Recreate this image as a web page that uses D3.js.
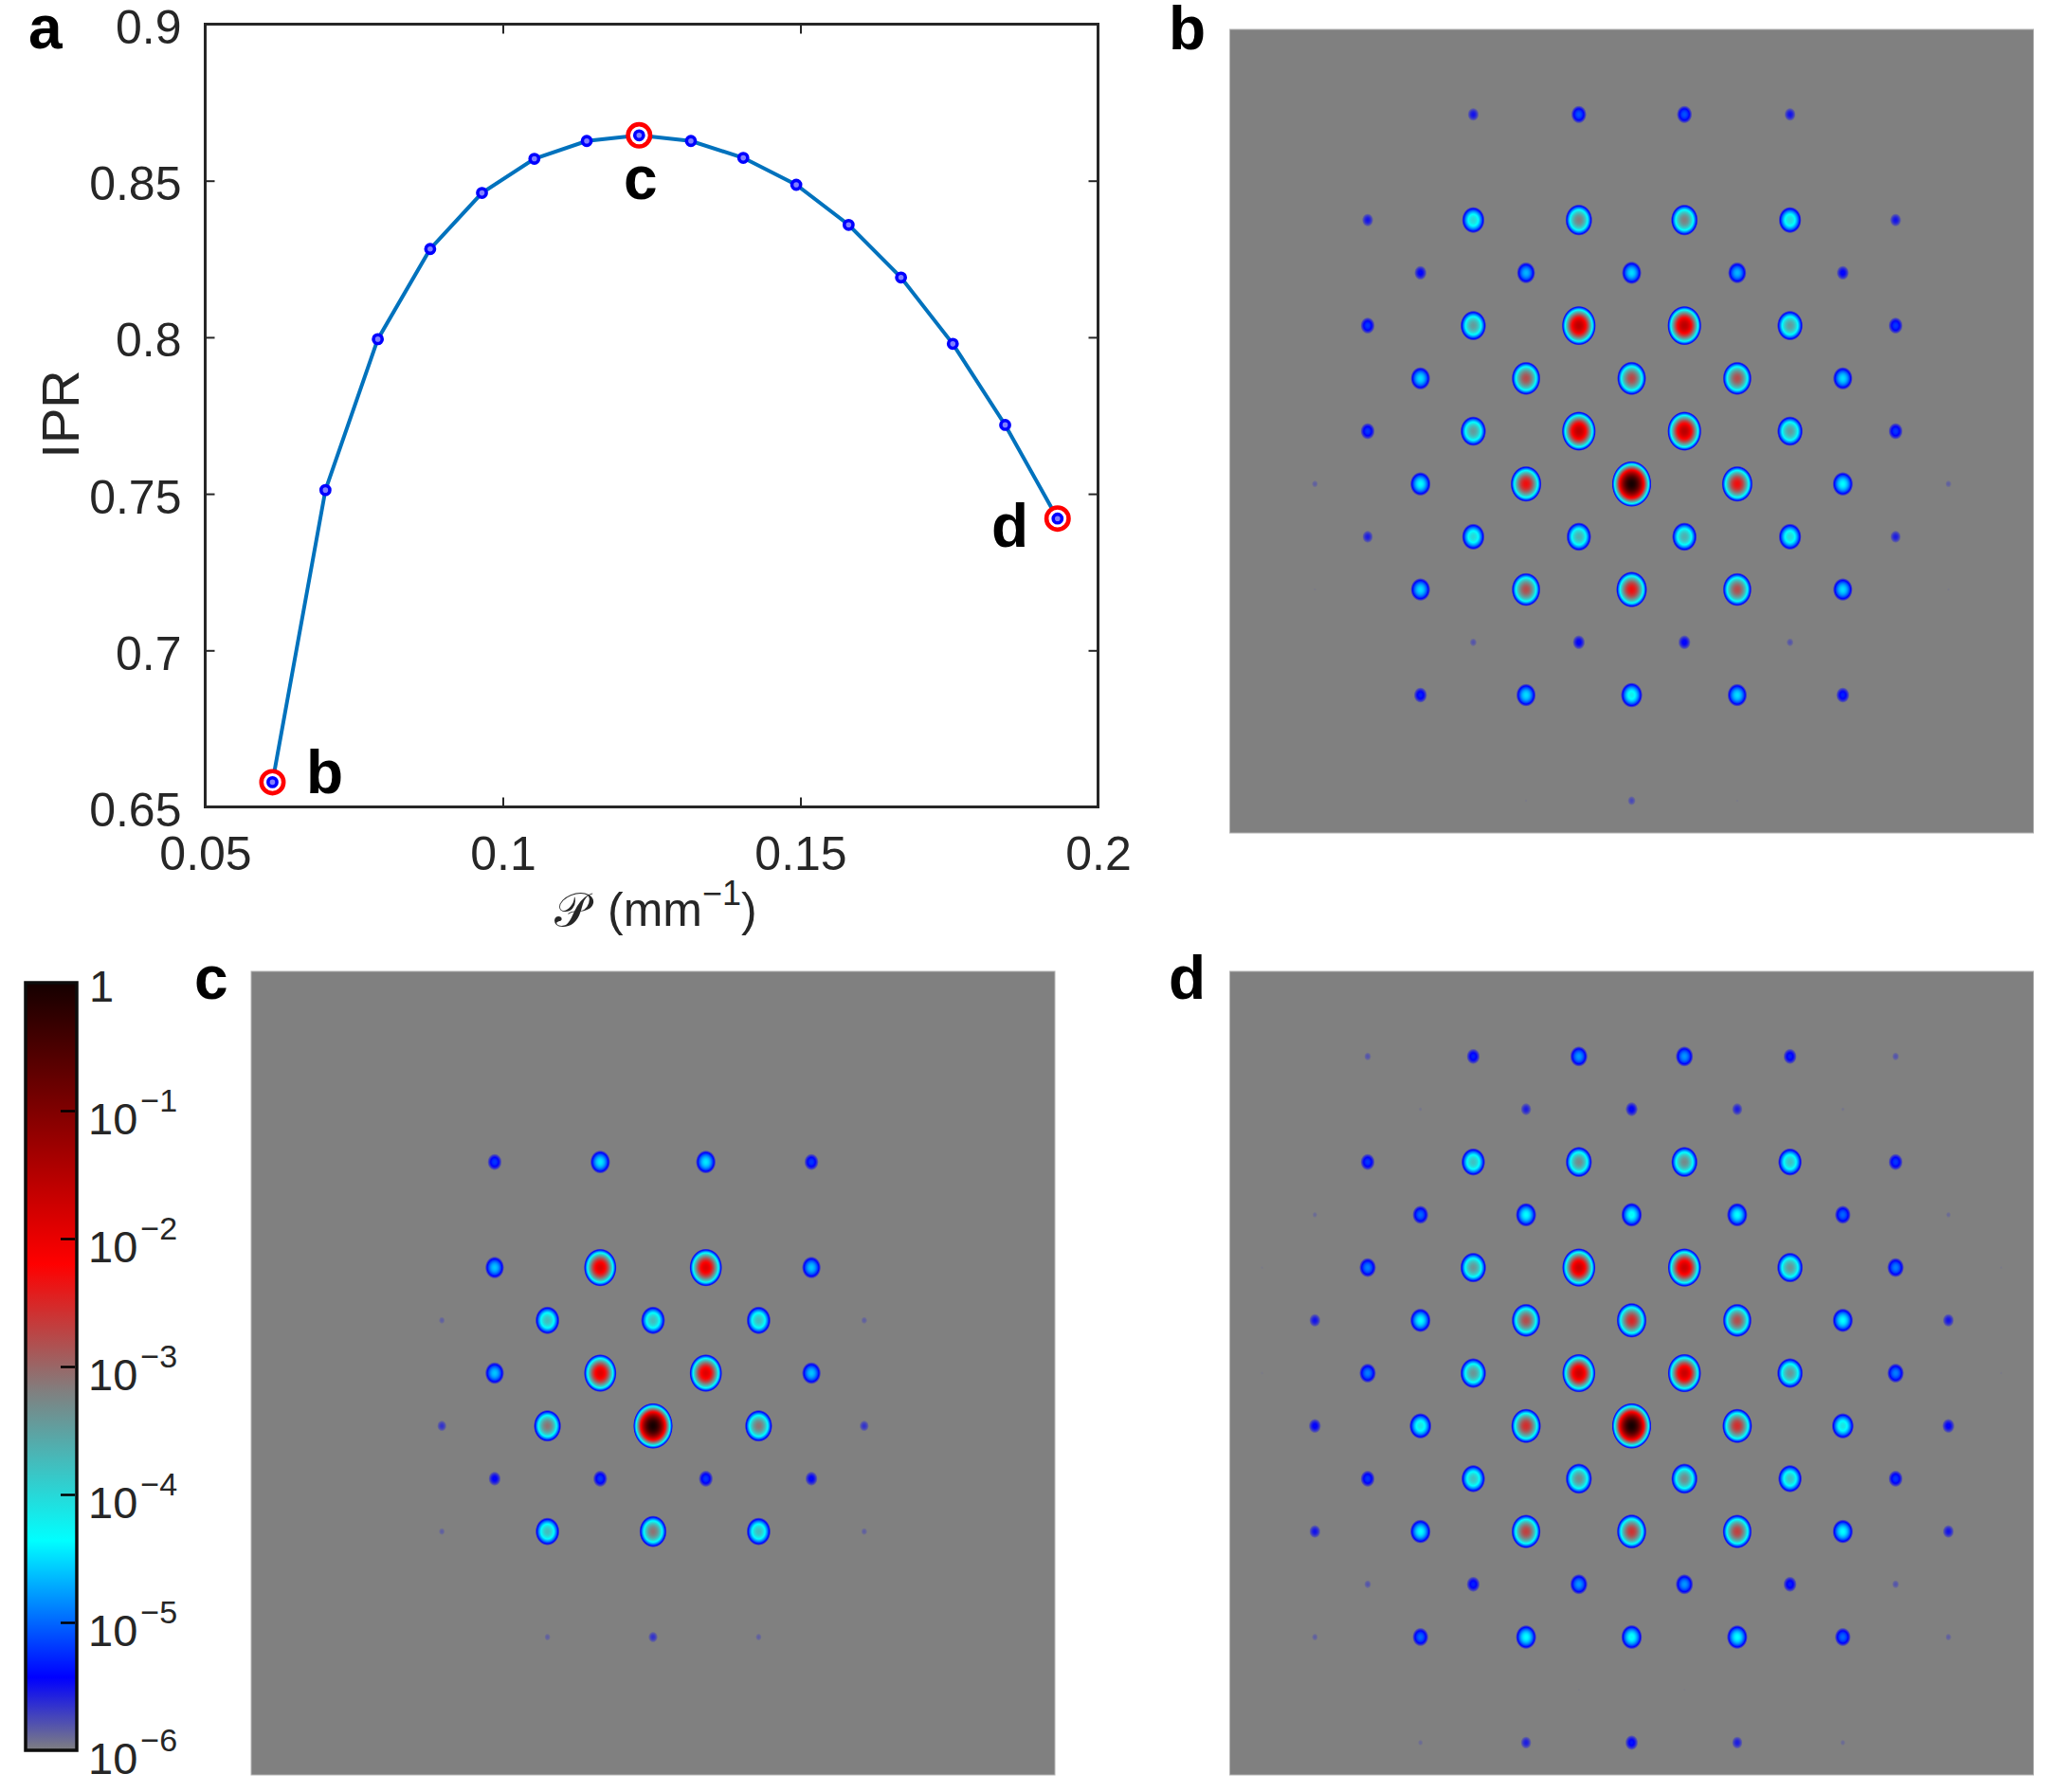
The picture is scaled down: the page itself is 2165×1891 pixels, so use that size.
<!DOCTYPE html>
<html>
<head>
<meta charset="utf-8">
<script src="https://cdn.jsdelivr.net/npm/d3@7"></script>
<style>
html,body{margin:0;padding:0;background:#fff;}
svg{display:block;}
text{font-family:"Liberation Sans",Arial,sans-serif;fill:#262626;}
.lab{font-weight:bold;fill:#000;font-size:64px;}
</style>
</head>
<body>
<svg id="chart" width="2165" height="1891"></svg>
<script>
// ---- panel a: IPR curve
const perimeter = [.0613,.0702,.0790,.0878,.0965,.1053,.1141,.1229,.1316,.1404,.1493,.1581,.1669,.1756,.1844,.1932];
const ipr = [.6579,.7512,.7994,.8282,.8461,.8570,.8627,.8645,.8627,.8573,.8487,.8359,.8191,.7979,.7720,.7421];
const highlighted = [0,7,15];
const highlightNames = ["b","c","d"];
const xTicks = [.05,.1,.15,.2];
const xTickLabels = ["0.05","0.1","0.15","0.2"];
const yTicks = [.65,.7,.75,.8,.85,.9];
const yTickLabels = ["0.65","0.7","0.75","0.8","0.85","0.9"];

// ---- colour scale, log10 of intensity
const cmapValues = [-6,-5.43,-4.36,-3.2,-2.2,0];
const cmapColors = ["#808080","#0000ff","#00ffff","#808080","#ff0000","#150000"];
const cbarTicks = [-6,-5,-4,-3,-2,-1,0];

// ---- lattice maps: log10 peak per site, rows listed by row number j,
//      columns i run from -7 (odd rows) or -6 (even rows) in steps of 2; null = no spot
const rowsB = {
  7:[null,null,-5.5,-5.08,-5.08,-5.5,null,null],
  5:[null,-5.5,-4.0,-3.2,-3.2,-4.0,-5.5,null],
  4:[null,-5.4,-4.67,-4.5,-4.67,-5.4,null],
  3:[null,-5.2,-3.45,-1.55,-1.55,-3.45,-5.2,null],
  2:[null,-4.5,-2.8,-2.75,-2.8,-4.5,null],
  1:[null,-5.2,-3.45,-1.55,-1.55,-3.45,-5.2,null],
  0:[-5.85,-4.36,-2.3,0,-2.3,-4.36,-5.85],
  "-1":[null,-5.55,-4.0,-3.63,-3.63,-4.0,-5.55,null],
  "-2":[-5.97,-4.5,-2.8,-2.3,-2.8,-4.5,-5.97],
  "-3":[null,null,-5.8,-5.4,-5.4,-5.8,null,null],
  "-4":[null,-5.3,-4.5,-4.2,-4.5,-5.3,null],
  "-6":[null,null,-5.97,-5.75,-5.97,null,null]
};
const rowsC = {
  5:[null,null,-5.2,-4.45,-4.45,-5.2,null,null],
  3:[null,null,-4.6,-1.9,-1.9,-4.6,null,null],
  2:[null,-5.85,-3.74,-3.74,-3.74,-5.85,null],
  1:[null,null,-4.6,-1.9,-1.9,-4.6,null,null],
  0:[null,-5.65,-3.1,0,-3.1,-5.65,null],
  "-1":[null,null,-5.4,-5.2,-5.2,-5.4,null,null],
  "-2":[null,-5.85,-3.75,-3.1,-3.75,-5.85,null],
  "-4":[null,null,-5.85,-5.65,-5.85,null,null]
};
const rowsD = {
  7:[null,-5.8,-5.3,-4.8,-4.8,-5.3,-5.8,null],
  6:[null,-5.95,-5.55,-5.4,-5.55,-5.95,null],
  5:[null,-5.2,-3.8,-3.3,-3.3,-3.8,-5.2,null],
  4:[-5.9,-5.0,-4.35,-4.3,-4.35,-5.0,-5.9],
  3:[-5.97,-4.9,-3.4,-1.7,-1.7,-3.4,-4.9,-5.97],
  2:[-5.5,-4.35,-2.8,-2.5,-2.8,-4.35,-5.5],
  1:[-5.97,-4.9,-3.4,-1.7,-1.7,-3.4,-4.9,-5.97],
  0:[-5.4,-4.1,-2.55,0,-2.55,-4.1,-5.4],
  "-1":[null,-5.2,-3.8,-3.3,-3.3,-3.8,-5.2,null],
  "-2":[-5.5,-4.35,-2.7,-2.6,-2.7,-4.35,-5.5],
  "-3":[null,-5.8,-5.3,-4.8,-4.8,-5.3,-5.8,null],
  "-4":[-5.85,-5.0,-4.35,-4.3,-4.35,-5.0,-5.85],
  "-5":[null,null,null,-5.98,-5.98,null,null,null],
  "-6":[null,-5.9,-5.55,-5.35,-5.55,-5.9,null]
};

const svg = d3.select("#chart");
const defs = svg.append("defs");
const ink = "#262626";
const cmap = d3.scaleLinear().domain(cmapValues).range(cmapColors).interpolate(d3.interpolateRgb);

// ---------- panel a
const ax = {l:216.5,r:1158.5,t:25.5,b:851.5};
const x = d3.scaleLinear().domain([.05,.2]).range([ax.l,ax.r]);
const y = d3.scaleLinear().domain([.65,.9]).range([ax.b,ax.t]);
const a = svg.append("g");
function styleAxis(g){
  g.select(".domain").remove();
  g.selectAll(".tick line").attr("stroke",ink).attr("stroke-width",2);
}
a.append("g").attr("transform",`translate(0,${ax.b})`)
 .call(d3.axisBottom(x).tickValues(xTicks).tickSize(-10).tickPadding(0).tickFormat((d,i)=>xTickLabels[i]))
 .call(styleAxis)
 .call(g=>g.selectAll("text").attr("font-size",50).attr("dy",0).attr("y",66).attr("fill",ink).style("font-family",'"Liberation Sans"'));
a.append("g").attr("transform",`translate(0,${ax.t})`)
 .call(d3.axisTop(x).tickValues(xTicks).tickSize(-10).tickFormat("")).call(styleAxis);
a.append("g").attr("transform",`translate(${ax.l},0)`)
 .call(d3.axisLeft(y).tickValues(yTicks).tickSize(-10).tickPadding(0).tickFormat((d,i)=>yTickLabels[i]))
 .call(styleAxis)
 .call(g=>g.selectAll("text").attr("font-size",50).attr("dy",0).attr("y",20).attr("x",-25).attr("fill",ink).style("font-family",'"Liberation Sans"'));
a.append("g").attr("transform",`translate(${ax.r},0)`)
 .call(d3.axisRight(y).tickValues(yTicks).tickSize(-10).tickFormat("")).call(styleAxis);
a.append("rect").attr("x",ax.l).attr("y",ax.t).attr("width",ax.r-ax.l).attr("height",ax.b-ax.t)
 .attr("fill","none").attr("stroke",ink).attr("stroke-width",3);

a.append("path").datum(perimeter.map((p,i)=>[p,ipr[i]]))
 .attr("d",d3.line().x(d=>x(d[0])).y(d=>y(d[1])))
 .attr("fill","none").attr("stroke","#0072BD").attr("stroke-width",4);
a.selectAll("circle.hi").data(highlighted).join("circle").attr("class","hi")
 .attr("cx",i=>x(perimeter[i])).attr("cy",i=>y(ipr[i])).attr("r",11.7)
 .attr("fill","#fff").attr("stroke","#ff0000").attr("stroke-width",4.6);
a.selectAll("circle.pt").data(perimeter).join("circle").attr("class","pt")
 .attr("cx",d=>x(d)).attr("cy",(d,i)=>y(ipr[i])).attr("r",4.6)
 .attr("fill","#8080ff").attr("stroke","#0000ff").attr("stroke-width",3.6);

a.append("text").attr("transform","translate(83,437) rotate(-90)").attr("text-anchor","middle")
 .attr("font-size",56).text("IPR");
const xl = a.append("text").attr("x",585).attr("y",977).attr("font-size",50);
xl.append("tspan").style("font-family",'"DejaVu Sans","Liberation Serif"').attr("font-size",50).text("\u{1D4AB}");
xl.append("tspan").attr("dx",20).text("(mm");
xl.append("tspan").attr("dy",-22).attr("font-size",36).text("\u22121");
xl.append("tspan").attr("dy",22).text(")");

const labelPos = [["a",30,51],["b",323,837],["c",658,210],["d",1046,577],
                  ["b",1233,52],["c",205,1054],["d",1233,1054]];
svg.selectAll("text.lab").data(labelPos).join("text").attr("class","lab")
 .attr("x",d=>d[1]).attr("y",d=>d[2]).text(d=>d[0]);

// ---------- lattice panels
const spotR = d3.scaleSqrt().domain([0,6]).range([0,21]);
const spotRy = d3.scaleSqrt().domain([0,6]).range([0,24.3]);
const gradIds = new Map();
function gradFor(L){
  if(gradIds.has(L)) return gradIds.get(L);
  const id = "g"+gradIds.size;
  const n = 48;
  defs.append("radialGradient").attr("id",id).selectAll("stop")
    .data(d3.range(n+1)).join("stop")
    .attr("offset",k=>k/n)
    .attr("stop-color",k=>cmap(L-(L+6)*(k/n)*(k/n)));
  gradIds.set(L,id);
  return id;
}
function sites(rows){
  const out=[];
  Object.keys(rows).forEach(key=>{
    const j=+key;
    const start = Math.abs(j)%2===1 ? -7 : -6;
    rows[key].forEach((L,c)=>{ if(L!==null) out.push({i:start+2*c,j,L}); });
  });
  return out;
}
function panel(rows,left,top,size,cj){
  const half = size/55.7/2;
  const sx = d3.scaleLinear().domain([-half,half]).range([left,left+size]);
  const sy = d3.scaleLinear().domain([cj-half,cj+half]).range([top+size,top]);
  const g = svg.append("g");
  g.append("rect").attr("x",left).attr("y",top).attr("width",size).attr("height",size)
   .attr("fill","#808080").attr("stroke","#b4b4b4").attr("stroke-width",1);
  g.selectAll("ellipse").data(sites(rows)).join("ellipse")
   .attr("cx",d=>sx(d.i)).attr("cy",d=>sy(d.j))
   .attr("rx",d=>spotR(6+d.L)).attr("ry",d=>spotRy(6+d.L))
   .attr("fill",d=>`url(#${gradFor(d.L)})`);
}
panel(rowsB,1297.5,31,848,1);
panel(rowsC,265,1025,848,1);
panel(rowsD,1297.5,1025,848,1);

// ---------- colour bar
const cb = {l:27,r:81,t:1037,b:1847};
const cy = d3.scaleLinear().domain([-6,0]).range([cb.b,cb.t]);
const cg = defs.append("linearGradient").attr("id","cbar").attr("x1",0).attr("x2",0).attr("y1",1).attr("y2",0);
cg.selectAll("stop").data(cmapValues).join("stop")
  .attr("offset",d=>(d+6)/6).attr("stop-color",d=>cmap(d));
svg.append("rect").attr("x",cb.l).attr("y",cb.t).attr("width",cb.r-cb.l).attr("height",cb.b-cb.t)
 .attr("fill","url(#cbar)").attr("stroke","#0d0d0d").attr("stroke-width",3.5);
const cbAxis = svg.append("g").attr("transform",`translate(${cb.r-2},0)`)
 .call(d3.axisRight(cy).tickValues(cbarTicks.slice(1,6)).tickSize(-15).tickFormat(""));
cbAxis.select(".domain").remove();
cbAxis.selectAll("line").attr("stroke","#000").attr("stroke-width",2.5);
const cl = svg.selectAll("text.cbl").data(cbarTicks).join("text").attr("class","cbl")
 .attr("x",93).attr("y",d=>cy(d)+(d===0?20:25)).attr("font-size",47);
cl.filter(d=>d===0).attr("x",94).text("1");
cl.filter(d=>d!==0).each(function(d){
  const t=d3.select(this);
  t.append("tspan").text("10");
  t.append("tspan").attr("dy",-24).attr("dx",3).attr("font-size",34).text("\u2212"+(-d));
});
</script>
</body>
</html>
